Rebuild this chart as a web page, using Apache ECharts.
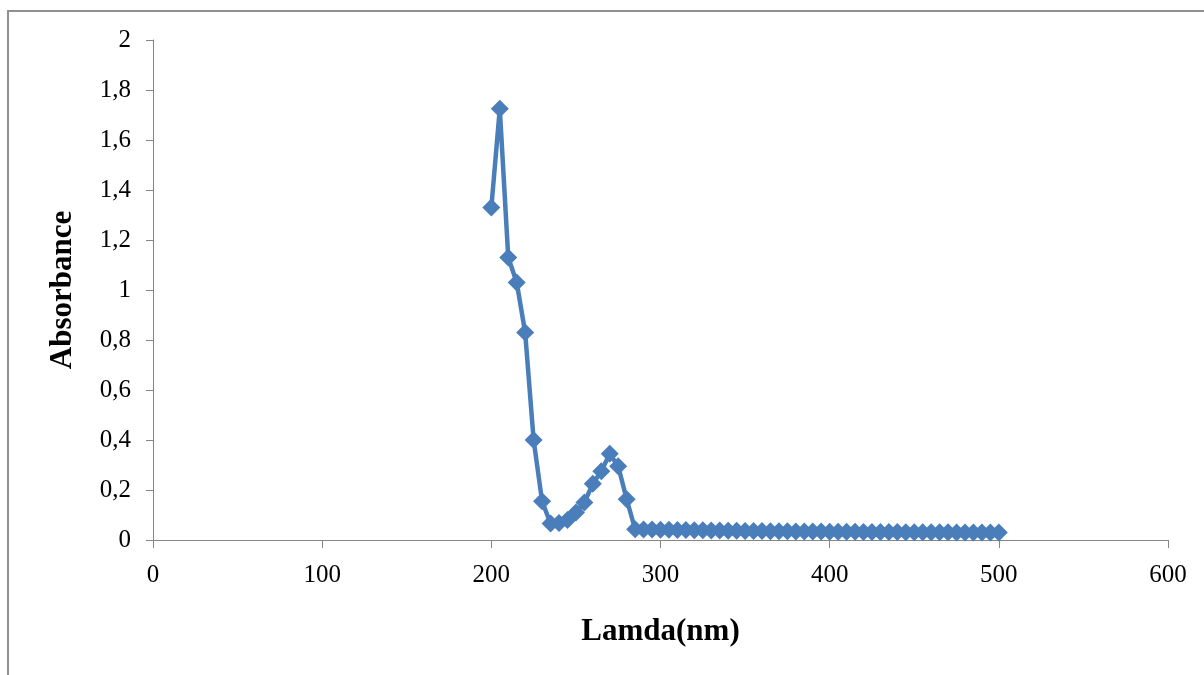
<!DOCTYPE html>
<html>
<head>
<meta charset="utf-8">
<script src="https://cdn.jsdelivr.net/npm/echarts@6/dist/echarts.min.js"></script>
<style>
  html, body { margin: 0; padding: 0; background: #fff; }
  #main { width: 1204px; height: 675px; }
</style>
</head>
<body>
<div id="main"></div>
<script>
// wavelength (nm)
var lamda = [200, 205, 210, 215, 220, 225, 230, 235, 240, 245,
  250, 255, 260, 265, 270, 275, 280, 285, 290, 295,
  300, 305, 310, 315, 320, 325, 330, 335, 340, 345,
  350, 355, 360, 365, 370, 375, 380, 385, 390, 395,
  400, 405, 410, 415, 420, 425, 430, 435, 440, 445,
  450, 455, 460, 465, 470, 475, 480, 485, 490, 495, 500];
// absorbance
var absorbance = [1.33, 1.725, 1.13, 1.03, 0.83, 0.40, 0.155, 0.066, 0.068, 0.08,
  0.11, 0.15, 0.225, 0.275, 0.345, 0.295, 0.163, 0.043, 0.042, 0.042,
  0.041, 0.041, 0.040, 0.040, 0.039, 0.039, 0.038, 0.038, 0.037, 0.037,
  0.036, 0.036, 0.036, 0.035, 0.035, 0.035, 0.034, 0.034, 0.034, 0.034,
  0.033, 0.033, 0.033, 0.033, 0.032, 0.032, 0.032, 0.032, 0.032, 0.031,
  0.031, 0.031, 0.031, 0.031, 0.031, 0.030, 0.030, 0.030, 0.030, 0.030, 0.030];

var points = [];
for (var i = 0; i < lamda.length; i++) {
  points.push([lamda[i], absorbance[i]]);
}

var myChart = echarts.init(document.getElementById("main"));
var axisColor = "#868686";
var font = "'Liberation Serif', 'Times New Roman', serif";

var option = {
  animation: false,
  grid: { left: 153, right: 36, top: 40, bottom: 135 },
  graphic: [
    {
      type: "rect",
      shape: { x: 8, y: 11, width: 1210, height: 680 },
      style: { fill: null, stroke: "#909090", lineWidth: 2 }
    }
  ],
  xAxis: {
    type: "value",
    min: 0,
    max: 600,
    interval: 100,
    name: "Lamda(nm)",
    nameLocation: "middle",
    nameGap: 76,
    nameTextStyle: { fontFamily: font, fontSize: 31, fontWeight: "bold", color: "#000" },
    axisLine: { lineStyle: { color: axisColor, width: 1 } },
    axisTick: { show: true, length: 8, lineStyle: { color: axisColor } },
    axisLabel: { fontFamily: font, fontSize: 25, color: "#000", margin: 23 },
    splitLine: { show: false }
  },
  yAxis: {
    type: "value",
    min: 0,
    max: 2,
    interval: 0.2,
    name: "Absorbance",
    nameLocation: "middle",
    nameGap: 75,
    nameTextStyle: { fontFamily: font, fontSize: 31, fontWeight: "bold", color: "#000" },
    axisLine: { show: true, lineStyle: { color: axisColor, width: 1 } },
    axisTick: { show: true, length: 7, lineStyle: { color: axisColor } },
    axisLabel: {
      fontFamily: font,
      fontSize: 25,
      color: "#000",
      margin: 22,
      formatter: function (v) {
        return String(Math.round(v * 10) / 10).replace(".", ",");
      }
    },
    splitLine: { show: false }
  },
  series: [
    {
      type: "line",
      data: points,
      symbol: "diamond",
      symbolSize: 18,
      lineStyle: { color: "#4a7ebb", width: 4.5 },
      itemStyle: { color: "#4a7ebb" }
    }
  ]
};

myChart.setOption(option);
</script>
</body>
</html>
